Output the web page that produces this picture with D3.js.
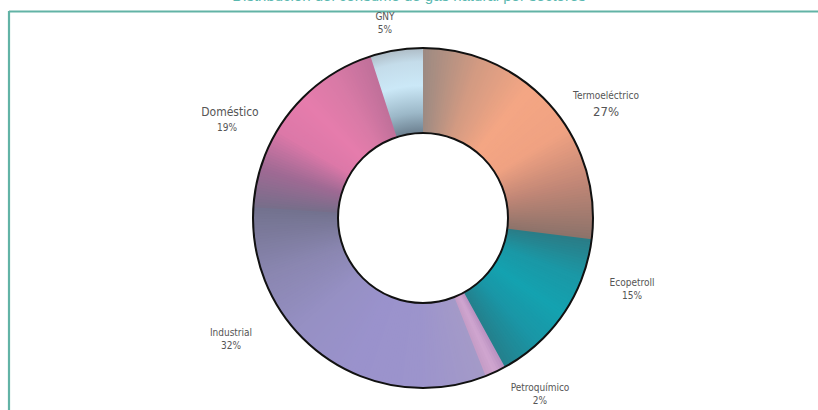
<!DOCTYPE html>
<html>
<head>
<meta charset="utf-8">
<script src="https://cdn.jsdelivr.net/npm/d3@7"></script>
<style>
  body { margin: 0; background: #fff; }
  svg { display: block; }
  .lbl { font-family: "Liberation Sans Narrow", "DejaVu Sans Condensed", sans-serif; fill: #555; }
</style>
</head>
<body>
<script>
// data
var sectores = ["Termoeléctrico", "Ecopetroll", "Petroquímico", "Industrial", "Doméstico", "GNY"];
var valores = [27, 15, 2, 32, 19, 5];
var etiquetas = ["27%", "15%", "2%", "32%", "19%", "5%"];

// colour ramps along each slice (clockwise)
var rampas = [
    ["#9c8a82", "#d29a82", "#f4a684", "#f0a282", "#c08676", "#8c726a"],
    ["#2b7c86", "#1a98a6", "#14a2b0", "#1a96a6", "#24808c"],
    ["#b890c0", "#d0a6d0", "#c49cc6"],
    ["#a49ac8", "#9c94cc", "#9a92cc", "#9690c4", "#8a86b0", "#72728e"],
    ["#766e8a", "#a06a94", "#dc78a8", "#e67cac", "#d87aa6", "#c0709a"],
    ["#c8e6f6"]
];

// label layout (centre of label block)
var labelPos = [[606, 96, 13], [632, 283, 13], [540, 388, 13], [231, 333, 13], [230, 113, 15], [385, 17, 13]];
var labelFont = [[10, 13], [10, 10], [10, 10], [10, 10], [12, 10], [10, 10]];

var width = 818, height = 410;
var cx = 423, cy = 218, rOuter = 170, rInner = 85;

var svg = d3.select("body").append("svg")
    .attr("width", width)
    .attr("height", height);

svg.append("rect").attr("width", width).attr("height", height).attr("fill", "#fff");

// title, mostly above the visible area as in the source picture
svg.append("text")
    .attr("x", 409).attr("y", 1)
    .attr("text-anchor", "middle")
    .style("font-family", "Liberation Sans Narrow, sans-serif")
    .style("font-size", "15px")
    .style("fill", "#5ab8b0")
    .text("Distribución del consumo de gas natural por sectores");

// frame
svg.append("line").attr("x1", 9).attr("x2", width).attr("y1", 11.5).attr("y2", 11.5)
    .attr("stroke", "#62b3a6").attr("stroke-width", 2.2);
svg.append("line").attr("x1", 9).attr("x2", 9).attr("y1", 11).attr("y2", height)
    .attr("stroke", "#62b3a6").attr("stroke-width", 2.2);

var defs = svg.append("defs");
var gny = defs.append("radialGradient")
    .attr("id", "gnyGrad")
    .attr("gradientUnits", "userSpaceOnUse")
    .attr("cx", 0).attr("cy", 0).attr("r", rOuter);
gny.append("stop").attr("offset", 0.5).attr("stop-color", "#6c8090");
gny.append("stop").attr("offset", 0.62).attr("stop-color", "#9cb8c8");
gny.append("stop").attr("offset", 0.78).attr("stop-color", "#cbe8f7");
gny.append("stop").attr("offset", 0.92).attr("stop-color", "#c4dcea");
gny.append("stop").attr("offset", 1).attr("stop-color", "#aebcc6");

var g = svg.append("g").attr("transform", "translate(" + cx + "," + cy + ")");

var pie = d3.pie().sort(null).value(function(d) { return d; });
var arcs = pie(valores);
var arc = d3.arc().innerRadius(rInner).outerRadius(rOuter);
var eps = Math.PI / 180 * 0.6;

arcs.forEach(function(a, i) {
    if (i === 5) {
        g.append("path").attr("d", arc(a)).attr("fill", "url(#gnyGrad)");
        return;
    }
    var ramp = rampas[i];
    var col = d3.scaleLinear()
        .domain(d3.range(ramp.length).map(function(k) { return k / (ramp.length - 1); }))
        .range(ramp)
        .interpolate(d3.interpolateRgb);
    var span = a.endAngle - a.startAngle;
    var n = Math.max(2, Math.ceil(span / (Math.PI / 180)));
    for (var k = 0; k < n; k++) {
        var s = a.startAngle + span * k / n;
        var e = a.startAngle + span * (k + 1) / n + eps; // overlap to hide seams
        g.append("path")
            .attr("d", arc({startAngle: s, endAngle: e}))
            .attr("fill", col((k + 0.5) / n));
    }
});

// outlines
g.append("circle").attr("r", rOuter).attr("fill", "none").attr("stroke", "#111").attr("stroke-width", 2);
g.append("circle").attr("r", rInner).attr("fill", "#fff").attr("stroke", "#111").attr("stroke-width", 2);

// labels
sectores.forEach(function(s, i) {
    var p = labelPos[i];
    var t = svg.append("text").attr("class", "lbl").attr("text-anchor", "middle");
    t.append("tspan").attr("x", p[0]).attr("y", p[1] + 3)
        .style("font-size", labelFont[i][0] + "px").text(s);
    t.append("tspan").attr("x", p[0] + (i === 4 ? -3 : 0)).attr("y", p[1] + 3 + p[2] + (i === 0 ? 4 : 0))
        .style("font-size", labelFont[i][1] + "px").text(etiquetas[i]);
});
</script>
</body>
</html>
